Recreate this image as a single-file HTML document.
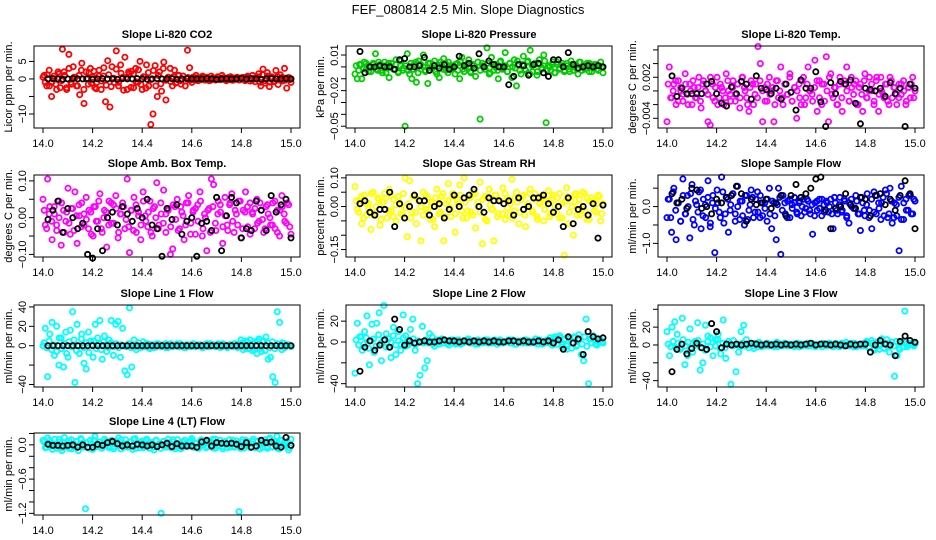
<!DOCTYPE html>
<html><head><meta charset="utf-8"><style>
html,body{margin:0;padding:0;background:#fff;}
svg{display:block;font-family:"Liberation Sans",Arial,sans-serif;}
</style></head><body>
<svg id="chart" width="936" height="540" viewBox="0 0 936 540" xmlns="http://www.w3.org/2000/svg">
<rect width="936" height="540" fill="#fff"/>
<text x="468" y="14" text-anchor="middle" font-size="13">FEF_080814  2.5 Min. Slope Diagnostics</text>
</svg>
<script>
// x axis ticks shared
const xTicks = [14.0, 14.2, 14.4, 14.6, 14.8, 15.0];
const xTickLabels = ["14.0", "14.2", "14.4", "14.6", "14.8", "15.0"];

// Panel titles and y labels
const titles = ["Slope Li-820 CO2","Slope Li-820 Pressure","Slope Li-820 Temp.","Slope Amb. Box Temp.","Slope Gas Stream RH","Slope Sample Flow","Slope Line 1 Flow","Slope Line 2 Flow","Slope Line 3 Flow","Slope Line 4 (LT) Flow"];
const yLabels = ["Licor ppm per min.","kPa per min.","degrees C per min.","degrees C per min.","percent per min.","ml/min per min.","ml/min per min.","ml/min per min.","ml/min per min.","ml/min per min."];

// y ticks per panel
const yTicks0 = [-10,-5,0,5];           const yTickLab0 = ["-10","","0","5"];
const yTicks1 = [0.01,0,-0.01,-0.02,-0.03,-0.04,-0.05]; const yTickLab1 = ["0.01","","","-0.02","","","-0.05"];
const yTicks2 = [0.006,0.004,0.002,0,-0.002,-0.004]; const yTickLab2 = ["","","0.002","","","-0.004"];
const yTicks3 = [0.10,0.05,0,-0.05,-0.10]; const yTickLab3 = ["0.10","","0.00","","-0.10"];
const yTicks4 = [0.10,0.05,0,-0.05,-0.10,-0.15]; const yTickLab4 = ["0.10","","0.00","","","-0.15"];
const yTicks5 = [0.5,0,-0.5,-1.0]; const yTickLab5 = ["","0.0","","-1.0"];
const yTicks6 = [40,20,0,-20,-40]; const yTickLab6 = ["40","20","0","","-40"];
const yTicks7 = [20,0,-20,-40]; const yTickLab7 = ["20","0","","-40"];
const yTicks8 = [40,20,0,-20,-40]; const yTickLab8 = ["","20","0","","-40"];
const yTicks9 = [0.2,0,-0.2,-0.4,-0.6,-0.8,-1.0,-1.2]; const yTickLab9 = ["","0.0","","","-0.6","","","-1.2"];

// y limits per panel
const yLim = [[-14,9.4],[-0.0515,0.0176],[-0.00542,0.00657],[-0.107,0.116],[-0.176,0.110],[-1.37,0.858],[-42.6,42],[-43.2,35.5],[-47.1,44.8],[-1.229,0.208]];

// colored series values (evenly spread over 14.0-15.0)
const col0 = [0.5,-1,1.2,-2,-5,0.8,-1.5,2,-2.5,8.5,1,-3,7,-1,3.5,0.5,-2,-4.5,4.5,-7,2,-1.5,3,0.5,-2.5,-1,2.5,-3,0.8,-6.5,5.2,-8,3.5,-1,8,-2,4,0.5,6.2,-3,1.5,2.2,-2.5,3,-1,5,-3,0.5,4,-2,-13,-10,3.8,-5,2,-3.5,4.8,-6,0.5,3,-2,2.5,-1,1,-1.5,0.8,-2,8.2,3.2,-1,0.5,1,-0.5,0.3,0.8,-0.3,0.5,-0.5,0.8,0.2,-0.3,0.6,-0.2,1,0.3,-0.5,0.4,0.6,-0.4,0.2,0.5,-0.3,0.3,0.4,-0.2,0.5,0.1,-0.3,0.2,0.3,1.5,-2,2.8,-1.2,1.8,-2.2,0.6,-0.8,2.4,-1.6,1.2,-0.6,3,-2.6,0.4,-1];
const col1 = [-0.006,-0.01,0.002,-0.01,0.004,-0.002,0.001,-0.004,0.003,0.011,-0.003,0.002,-0.005,0.004,-0.001,-0.009,0.003,-0.002,0.006,-0.005,0.001,-0.003,-0.05,0.011,-0.006,-0.01,0.002,-0.013,0.005,-0.002,0.01,-0.004,-0.014,0.003,-0.001,0.005,-0.006,-0.009,0.002,0.007,-0.003,0.004,-0.002,0.001,-0.006,0.003,-0.01,0.008,-0.004,0.002,0.006,-0.005,0.001,-0.008,0.004,-0.044,0.003,-0.002,0.016,-0.006,0.008,-0.003,0.002,-0.01,0.005,-0.001,0.012,-0.004,0.003,-0.009,0.006,-0.016,0.002,-0.006,0.009,-0.003,0.005,0.014,-0.004,0.002,-0.007,0.006,-0.002,0.01,-0.047,0.001,-0.003,0.004,-0.005,0.002,-0.001,0.003,-0.004,0.001,-0.002,0.005,-0.003,0.002,-0.006,0.004,0,-0.002,0.003,-0.004,0.001,-0.001,0.002,-0.003,0.004,-0.005];
const col2 = [-0.0045,0.0035,-0.001,0.001,-0.002,0.0015,0,-0.0015,0.0025,-0.0005,0.001,-0.002,0.0005,-0.001,0.002,-0.0025,0.0015,0,-0.0045,-0.005,0.001,-0.0015,0.002,-0.001,0.0005,-0.002,0.0025,0,-0.0015,0.0015,-0.0005,0.001,-0.0025,0.002,0.0005,-0.001,-0.003,0.0015,-0.002,0.001,0.0065,0.004,-0.0045,0.0005,-0.0015,0.002,0,-0.0045,0.0015,-0.001,0.0035,-0.002,0.001,-0.0005,0.0025,-0.0015,0.0005,-0.004,0.001,-0.002,0.002,-0.001,0.0035,0,-0.0015,0.0045,-0.003,0.0015,-0.002,0.001,0.005,-0.0045,0.0025,-0.001,0.0005,-0.002,0.002,-0.003,0.001,0.0035,-0.0015,0.002,-0.0005,0.0015,-0.002,0.001,-0.003,0.0025,-0.001,0.002,0,-0.002,0.0015,-0.003,0.002,-0.0005,0.001,-0.0015,0.002,-0.001,0.0005,-0.002,0.001,-0.0005,0.0015,-0.002,0.0005,-0.001,0.002,0];
const col3 = [0.05,-0.02,0.105,0.03,-0.06,0.01,-0.035,0.045,-0.075,0.02,-0.01,0.08,-0.045,0.025,0.07,-0.07,0.005,0.04,-0.02,0.055,-0.03,0.015,-0.05,0.03,-0.01,0.065,-0.04,0.02,-0.08,0.045,-0.015,0.035,0.06,-0.055,0.01,0.04,-0.03,0.105,-0.095,0.02,0.055,-0.04,0.015,-0.06,0.07,0.005,-0.025,0.045,-0.05,0.03,0.095,-0.02,0.01,0.075,-0.04,0.025,-0.1,-0.085,0.03,0.05,-0.03,0.015,-0.06,0.04,0.06,-0.015,0.02,-0.045,0.035,0.07,-0.05,0.01,-0.09,0.025,0.105,0.09,-0.035,0.045,0.015,-0.07,0.055,-0.02,0.035,0.065,-0.04,0.01,0.045,-0.055,0.02,0.07,-0.025,0.04,0.015,-0.03,0.05,-0.01,0.02,-0.04,0.03,0.01,-0.02,0.04,-0.03,0.02,-0.05,0.06,0.01,-0.015,0.035,-0.045];
const col4 = [0.07,-0.01,0.02,-0.06,0.04,-0.03,0.01,-0.08,0.05,-0.02,0.03,-0.065,0.015,0.045,-0.04,0.06,-0.015,0.025,-0.05,0.035,0.005,-0.03,0.1,-0.105,0.09,-0.02,0.04,-0.06,0.02,-0.12,0.05,-0.01,0.03,-0.045,0.015,-0.07,0.06,-0.025,0.035,-0.12,0.01,0.08,-0.035,0.045,-0.09,0.02,0.075,-0.015,0.1,-0.04,0.03,-0.02,0.05,-0.075,0.015,0.085,-0.13,0.035,-0.05,0.06,-0.01,-0.12,0.04,-0.025,0.02,0.065,-0.045,0.03,-0.03,0.095,-0.015,0.05,-0.06,0.025,0.04,-0.07,0.01,0.06,-0.02,0.045,-0.035,0.015,0.035,-0.05,0.02,0.055,-0.025,0.04,-0.01,0.03,-0.04,0.01,-0.17,0.065,-0.06,0.02,-0.1,0.045,0.005,-0.03,0.05,-0.015,0.03,-0.045,0.015,0.02,-0.02,0.04,-0.05,0.01];
const col5 = [-0.3,0.2,-0.7,0.5,-0.9,0.1,-0.4,0.75,-0.2,0.3,-0.85,0.6,-0.5,0.05,0.4,-0.6,0.2,-0.3,0.7,-0.55,0.1,-1.25,0.45,-0.15,0.8,-0.45,0.25,-0.7,0.05,0.35,-0.2,0.55,-0.35,0.15,-0.5,0.3,-0.1,0.45,-0.3,0.2,-0.15,0.3,-0.25,0.1,-0.4,0.5,-0.6,0.1,-0.9,0.5,-1.3,0.3,-0.2,0.15,-0.3,0.05,0.25,-0.15,0.1,-0.25,0.2,-0.05,0.15,-0.2,-0.75,0.1,-0.1,0.2,-0.25,0.05,0.15,-0.15,0.2,-0.6,0.1,-0.2,0.25,-0.1,0.15,-0.3,-0.45,0.2,-0.05,0.3,-0.2,-0.65,0.1,-0.25,0.35,-0.1,-0.6,0.4,-0.2,0.1,-0.35,0.25,0.45,-0.3,0.5,-0.45,0.1,-0.25,-1.2,0.55,-0.35,0.2,-0.1,0.3,-0.2,0.15];
const col6 = [0,18,-32,12,24,-10,20,-20,8,-22,14,-12,16,35,-38,22,-8,12,-18,-24,14,5,-12,22,8,26,-14,10,-6,6,26,-10,22,25,-12,18,-26,-30,39,-22,6,-4,3,-2,4,-1,2,-3,1,-2,2,0,-1,1,2,-2,1,-1,0,2,-1,1,-2,1,0,-1,2,-1,1,0,-2,1,2,-1,0,1,-1,2,0,-1,1,-2,1,0,2,-1,1,6,-4,5,-3,6,-5,4,-8,7,-6,5,9,-14,-12,-32,-38,35,24,-4,2,0,1,-1];
const col7 = [-30,18,5,-8,10,25,-22,17,-10,18,28,-18,35,8,-5,-15,14,-12,10,-8,26,6,-3,12,22,-8,-40,-32,15,-25,-18,8,5,-4,2,-2,3,-1,1,-3,2,0,-1,2,-2,1,0,3,-1,1,-2,2,0,-1,1,2,-1,0,2,-2,1,-1,0,1,2,-1,1,-2,0,1,-1,2,0,-1,1,3,-2,1,0,-1,2,4,-3,5,-2,6,-5,3,-7,4,-6,5,-4,7,-12,-18,22,-40,3,6,-2,0,2,-1];
const col8 = [15,-12,20,26,12,-4,30,-22,-12,18,-8,4,25,-28,-20,22,10,8,-12,6,12,-10,28,-15,4,-44,5,-30,-8,15,22,6,-3,2,-4,1,3,-2,0,2,-1,1,-2,3,0,-1,2,-1,1,0,-2,2,1,-1,0,2,-1,1,-2,0,1,2,-1,0,1,-2,2,-1,0,1,3,-1,2,-2,1,0,-1,2,4,-3,5,-6,3,-5,7,-4,6,-8,3,-35,-12,-5,4,38,-2,2,0,1];
const col9 = [0.08,-0.05,0.12,0.02,-0.08,0.1,-0.02,0.05,-0.1,0.13,0.01,-0.06,0.09,-0.03,0.06,-0.1,0.11,0.03,-1.12,-0.04,0.08,-0.08,0.15,-0.02,0.05,-0.06,0.1,0.01,-0.05,0.08,-0.03,0.06,0.12,-0.07,0.02,0.09,-0.04,0.05,-0.08,0.11,0.03,-0.05,0.07,-0.02,0.1,-0.06,0.04,-0.09,0.08,0.01,-1.2,0.06,-0.04,0.1,-0.02,0.05,-0.07,0.09,0.02,-0.05,0.08,-0.03,0.06,0.11,-0.04,0.03,-0.06,0.09,0.01,-0.05,0.07,-0.02,0.1,-0.06,0.04,0.08,-0.03,0.06,-0.05,0.09,0.02,-0.04,0.07,-1.17,0.05,-0.06,0.08,0.01,-0.03,0.1,-0.05,0.06,0.02,-0.04,0.09,-0.06,0.12,-0.03,0.05,0.15,-0.07,0.08,-0.02,0.04,-0.09,0.1];

// dense core band values for colored series (evenly spread over 14.0-15.0)
const band0 = [1,-2,2.5,-1,0,-3,1.5,-0.5,2,-2.5,3,-1.5,0.5,-2,1,2.5,-3,0,1.8,-1.2,2.2,-2.8,0.8,-0.6,3.2,-1.8,1.2,-2.2,0.2,2.8,-1,1.6,-3.2,0.4,2,-2.4,1.4,-0.8,2.6,-1.6,0.6,-2.6,1.8,-0.2,2.4,-2,1,-1.4,3,-0.4,0.5,-0.8,0.6,-1.2,1,-0.5,0.8,-0.6,0.4,-0.3,0.5,-0.4,0.3,-0.2,0.4,-0.3,0.2,-0.4,0.3,-0.1,0.4,-0.2,0.3,-0.3,0.2,-0.2,0.3,-0.1,0.2,-0.2,0.4,-0.5,0.8,-0.6,1,-0.8,0.6,-1,1.2,-0.5,0.8,-0.9,0.4,-0.6,0.7,-0.3,0.5,-0.4,0.3,-0.2];
const band1 = [0.001,-0.003,0.002,-0.001,0.003,-0.004,0,0.002,-0.002,0.004,-0.003,0.001,-0.005,0.003,0,-0.002,0.002,-0.004,0.005,-0.001,0.001,-0.003,0.003,-0.002,0.004,-0.005,0.002,0,-0.003,0.003,-0.001,0.002,-0.004,0.001,0.004,-0.002,0.003,-0.005,0.001,-0.001,0.002,-0.003,0.005,-0.002,0,0.003,-0.004,0.002,-0.001,0.004,-0.003,0.001,-0.002,0.003,-0.005,0.002,0,-0.003,0.004,-0.002,0.001,-0.004,0.003,0,-0.001,0.005,-0.003,0.002,-0.002,0.004,-0.006,0.001,0.003,-0.004,0.002,-0.001,0.005,-0.003,0,0.002,-0.005,0.004,-0.002,0.001,-0.003,0.003,-0.004,0.002,0,-0.002,0.004,-0.003,0.001,-0.001,0.003,-0.004,0.002,-0.002,0.001,0];
const band2 = [0.001,-0.001,0,0.0015,-0.0015,0.0005,-0.0005,0.001,-0.002,0,0.0015,-0.001,0.0005,-0.0015,0.001,0,-0.0005,0.002,-0.001,0.0005,-0.002,0.001,0,-0.001,0.0015,-0.0005,0.0005,-0.0015,0.001,-0.001,0.002,0,-0.002,0.0005,0.001,-0.0005,-0.001,0.0015,0,-0.0015,0.001,-0.0005,0.0005,-0.002,0.0015,0,-0.001,0.001,-0.0005,0.002,-0.0015,0.0005,0,-0.001,0.0015,-0.002,0.001,0,-0.0005,0.0005,0.0015,-0.001,0.001,-0.0015,0,0.002,-0.0005,0.0005,-0.002,0.001,-0.001,0.0015,0,-0.0015,0.0005,0.001,-0.002,0.0005,-0.0005,0.0015,-0.001,0,0.001,-0.0015,0.002,-0.0005,0,-0.001,0.001,-0.002,0.0015,0.0005,-0.0005,-0.001,0.001,0,-0.0015,0.0005,0.001,-0.001];
const band3 = [0.02,-0.03,0.01,-0.01,0.03,-0.02,0,0.04,-0.04,0.015,-0.015,0.025,-0.035,0.005,0.035,-0.025,0.01,-0.005,0.02,-0.045,0.03,-0.01,0.045,-0.03,0,0.015,-0.02,0.04,-0.015,0.025,-0.04,0.01,0.03,-0.005,-0.025,0.02,-0.035,0.035,0.005,-0.02,0.045,-0.01,0.015,-0.04,0.025,0,-0.03,0.04,-0.015,0.01,0.02,-0.025,0.035,-0.005,-0.035,0.03,0.005,-0.02,0.04,-0.045,0.015,0.025,-0.01,0.045,-0.03,0,0.02,-0.04,0.03,-0.015,0.01,0.035,-0.025,0.005,-0.035,0.04,-0.01,0.02,-0.02,0.045,-0.03,0.015,0.03,-0.045,0.01,0.025,-0.015,0.04,-0.005,-0.03,0.035,0,-0.02,0.045,-0.04,0.02,0.03,-0.01,0.04,-0.025];
const band4 = [0.02,-0.02,0.035,-0.04,0.01,-0.01,0.045,-0.03,0,0.025,-0.045,0.015,0.03,-0.015,0.04,-0.035,0.005,0.02,-0.025,0.045,-0.005,0.01,-0.04,0.035,-0.02,0.025,0,-0.03,0.04,-0.01,0.015,-0.045,0.03,0.005,-0.02,0.045,-0.035,0.02,-0.005,0.035,-0.025,0.01,0.04,-0.04,0.015,-0.015,0.03,-0.03,0.045,0,-0.02,0.025,-0.045,0.035,0.005,-0.01,0.04,-0.035,0.02,-0.025,0.045,-0.005,0.01,-0.04,0.03,0.015,-0.02,0.035,-0.03,0,0.045,-0.015,0.025,-0.045,0.01,0.04,-0.01,0.02,-0.035,0.03,0.005,-0.025,0.045,-0.04,0.015,0.035,-0.02,0,0.04,-0.03,0.025,-0.01,0.045,-0.045,0.02,0.03,-0.015,0.01,0.035,-0.025];
const band5 = [0.2,-0.3,0.4,-0.1,0.1,-0.4,0.3,-0.2,0,0.35,-0.35,0.15,-0.15,0.45,-0.25,0.05,0.25,-0.45,0.3,-0.05,0.1,-0.3,0.4,-0.2,0.2,-0.1,0.35,-0.4,0,0.15,-0.25,0.3,-0.35,0.05,0.25,-0.15,0.4,-0.3,0.1,-0.05,0.2,-0.2,0.15,-0.25,0.05,0.25,-0.1,0.1,-0.3,0.2,-0.05,0.1,-0.2,0.15,0,-0.15,0.2,-0.1,0.05,-0.25,0.15,-0.05,0.2,-0.15,0.1,0,-0.2,0.25,-0.1,0.05,-0.15,0.2,-0.25,0.1,0,-0.05,0.15,-0.2,0.25,-0.1,0.05,-0.3,0.2,-0.15,0.3,-0.05,0.1,-0.25,0.35,-0.2,0.15,-0.3,0.05,0.25,-0.35,0.1,-0.1,0.3,-0.2,0.2];
const band6 = [3,-2,5,-4,1,-6,8,-3,2,-8,4,-1,6,-5,0,7,-2,3,-7,1,5,-3,2,-4,4,1,-2,3,-1,2,-2,1,0,-1,2,-2,1,-1,3,0,-1,2,-2,1,0,-1,2,-1,1,-2,0,2,-1,1,-1,2,0,-2,1,-1,2,-1,0,1,-2,1,-1,2,0,-1,1,-2,2,0,-1,1,-1,2,-2,1,3,-2,4,-3,2,-4,5,-3,4,-5,3,-2,4,-3,2,-1,3,-2,1,0];
const band7 = [2,-3,5,-2,4,-6,1,3,-4,7,-1,2,-5,3,0,6,-3,1,-2,4,-4,2,-1,3,-2,1,0,-1,2,-1,1,-2,1,0,2,-1,1,-1,0,2,-2,1,0,-1,1,2,-1,0,1,-2,1,0,2,-1,1,-1,0,1,2,-1,0,1,-1,2,-2,1,0,-1,2,-1,1,0,-1,1,2,-2,1,0,-1,2,3,-2,4,-3,2,-4,3,-1,4,-3,2,-2,5,-4,3,-1,2,-3,1,0];
const band8 = [1,-2,4,-3,2,-5,6,-1,3,-4,2,0,5,-3,1,-6,4,-2,3,-1,6,-4,2,-3,1,2,-1,0,1,-2,2,-1,0,1,-1,2,-2,1,0,-1,2,-1,1,0,-2,1,-1,2,0,-1,1,-1,2,-2,1,0,-1,1,2,-1,0,1,-2,1,-1,2,0,-1,1,-2,2,-1,0,1,-1,2,-2,1,0,-1,3,-2,2,-4,3,-1,4,-3,2,-2,3,-1,4,-3,2,-2,1,0,1,-1];
const band9 = [0.05,-0.04,0.08,-0.02,0.02,-0.06,0.1,-0.05,0.03,-0.03,0.07,-0.07,0.01,0.06,-0.01,0.09,-0.04,0.04,-0.06,0.02,0.08,-0.03,0.05,-0.05,0,0.07,-0.02,0.03,-0.07,0.06,-0.01,0.09,-0.04,0.02,-0.03,0.05,0.1,-0.06,0.01,0.04,-0.05,0.07,-0.02,0.03,-0.04,0.08,0,-0.06,0.06,-0.01,0.04,-0.05,0.09,-0.03,0.02,-0.07,0.05,0.01,-0.02,0.08,-0.04,0.03,-0.06,0.07,0,0.04,-0.03,0.06,-0.05,0.1,-0.02,0.02,-0.07,0.05,0.01,-0.04,0.08,-0.03,0.03,-0.06,0.09,-0.01,0.04,-0.05,0.06,-0.02,0.07,-0.07,0.02,0.05,-0.03,0.1,-0.04,0.01,-0.06,0.08,-0.02,0.03,0.06,-0.05];

// black series values (x evenly spread over 14.02-15.0)
const blk0 = [0,0.1,0,-0.1,0,0.1,0,0,0.1,-0.1,0,0.1,0,0,-0.1,0.1,0,0,0.1,0,-0.1,0,0.1,0,0,0.1,-0.1,0,0.1,0,0,0,0.1,0,-0.1,0,0.1,0,0,0.2,0,0.1,0,-0.1,0,0.1,0,0,0.1,0];
const blk1 = [0.013,-0.005,0,0,0.001,0,0,-0.002,0.006,0.007,0,0,0.001,0.008,-0.003,0.001,-0.001,0.002,-0.002,0,0.009,0.001,0.003,-0.001,0.011,0,0.005,0.002,0,0,-0.015,-0.008,0.002,0.001,-0.007,0.002,0.003,-0.005,-0.008,0.006,0.006,0,0.012,0.002,-0.001,0,0.001,0,0.001,0];
const blk2 = [0.0022,-0.0008,0.0004,-0.0004,-0.0004,-0.0004,-0.0004,0.001,0.0014,-0.0004,-0.0018,-0.0022,0.0006,-0.0004,0.0014,0.001,-0.0012,0.0022,0.0004,0.0002,-0.0004,0.0004,-0.0012,0.001,-0.0002,-0.0028,0.0016,0.0004,0.0004,0.0028,-0.0016,-0.0052,0.0012,-0.0004,0.0014,0.001,0.0016,-0.0018,-0.0048,0.0004,0.0002,0,0.0004,-0.0008,0.0012,-0.0004,0.0004,-0.0052,0.001,0.0004];
const blk3 = [-0.005,0.02,0.045,-0.04,0.025,0.0,-0.03,-0.015,-0.1,-0.11,-0.03,-0.09,0.0,0.015,-0.02,0.03,0.01,-0.01,0.025,0.0,0.05,-0.02,-0.03,-0.105,0.025,-0.005,0.035,-0.045,-0.01,0.0,-0.105,-0.015,-0.01,-0.035,0.055,-0.09,0.005,0.055,0.04,-0.055,-0.03,-0.035,0.045,0.02,-0.035,0.06,0.015,0.035,0.05,-0.055];
const blk4 = [0.01,0.02,-0.02,-0.03,-0.01,-0.01,0.05,-0.07,0.01,-0.04,0.0,0.04,0.02,0.02,-0.03,0.0,0.01,-0.04,-0.01,0.04,0.0,0.03,0.04,0.06,0.0,-0.02,0.03,0.02,0.02,0.01,0.02,-0.03,0.03,-0.01,0.0,0.03,0.03,0.04,0.01,-0.02,0.0,-0.07,0.03,-0.06,-0.01,0.0,-0.03,0.01,-0.11,0.005];
const blk5 = [0.35,0.1,0.2,-0.05,0.5,0.45,-0.05,0.0,-0.2,0.2,0.1,0.25,0.3,0.55,0.35,-0.4,0.2,0.05,0.1,0.2,-0.05,0.1,0.3,-0.25,0.3,0.6,0.25,0.35,0.5,0.75,0.8,-0.1,-0.6,-0.05,0.0,0.35,0.05,-0.05,0.25,0.2,-0.25,0.3,0.35,0.05,0.2,-0.1,0.3,0.7,0.35,-0.6];
const blk6 = [0,0,0,0,0,0,0,0,0,0,0,0,0,0,0,0,0,0,0,0,0,0,0,0,0,0,0,0,0,0,0,0,0,0,0,0,0,0,0,0,0,0,0,0,0,0,0,0,0,0];
const blk7 = [-28,-5,1,-8,-3,2,-5,22,12,-3,1,-1,0,1,0,0,1,2,1,1,0,1,0,1,0,1,0,1,0,0,1,1,0,1,0,0,1,0,1,-1,2,-7,5,-1,3,-12,10,5,3,4];
const blk8 = [-30,-5,1,-10,-4,2,-3,-5,24,15,-3,1,0,1,0,1,2,1,0,1,0,1,0,1,0,1,0,1,2,0,1,1,0,1,0,-1,1,0,1,1,-8,0,5,1,0,-12,4,10,5,3];
const blk9 = [0.01,-0.01,-0.01,-0.02,-0.01,0.0,-0.04,0.0,-0.04,-0.04,0.01,-0.01,0.04,0.06,0.02,-0.02,0.0,-0.02,0.01,0.0,-0.02,0.0,-0.03,0.0,0.03,-0.03,0.02,-0.02,-0.02,-0.02,-0.04,0.05,0.08,-0.02,0.04,0.03,0.02,0.03,0.01,-0.03,0.04,-0.04,-0.02,0.08,0.04,0.05,-0.02,-0.04,0.13,-0.01];

const colorSets = [col0,col1,col2,col3,col4,col5,col6,col7,col8,col9];
const bandSets = [band0,band1,band2,band3,band4,band5,band6,band7,band8,band9];
const blackSets = [blk0,blk1,blk2,blk3,blk4,blk5,blk6,blk7,blk8,blk9];
const yTickSets = [yTicks0,yTicks1,yTicks2,yTicks3,yTicks4,yTicks5,yTicks6,yTicks7,yTicks8,yTicks9];
const yTickLabSets = [yTickLab0,yTickLab1,yTickLab2,yTickLab3,yTickLab4,yTickLab5,yTickLab6,yTickLab7,yTickLab8,yTickLab9];
const colors = ["#ff0000","#00cd00","#ff00ff","#ff00ff","#ffff00","#0000ff","#00ffff","#00ffff","#00ffff","#00ffff"];

const NS = "http://www.w3.org/2000/svg";
const svg = document.getElementById("chart");
const lefts = [34,346,658];
const tops = [46,175,305,433];
const W = 266, H = 82;

function mk(tag, attrs, parent){ const e=document.createElementNS(NS,tag); for(const k in attrs) e.setAttribute(k,attrs[k]); parent.appendChild(e); return e; }

for(let p=0;p<10;p++){
  const L = lefts[p%3], T = tops[Math.floor(p/3)];
  const g = mk("g",{},svg);
  
  
  const xs = v => L + 9 + (v-14)*248;
  const [y0,y1] = yLim[p];
  const ys = v => T + H - (v-y0)/(y1-y0)*H;

  const t = mk("text",{x:L+W/2,y:T-8,"text-anchor":"middle","font-size":"11","font-weight":"bold"},g);
  
  
  t.textContent = titles[p];

  const cg = mk("g",{fill:"none",stroke:colors[p],"stroke-width":"1.8"},g);
  
  
  // dense band
  const bd = bandSets[p];
  bd.forEach((v,i)=>{
    const c = mk("circle",{cx:xs(14 + (i+0.5)/bd.length).toFixed(1),cy:ys(v).toFixed(1),r:"2.6"},cg);
    
    
  });
  // scattered colored points
  const cs = colorSets[p];
  cs.forEach((v,i)=>{
    const c = mk("circle",{cx:xs(14 + i/(cs.length-1)).toFixed(1),cy:ys(v).toFixed(1),r:"2.6"},cg);
    
    
  });
  // black series
  const bs = blackSets[p];
  const bg = mk("g",{fill:"none",stroke:"#000","stroke-width":"1.8"},g);
  
  
  bs.forEach((v,i)=>{
    const c = mk("circle",{cx:xs(14.02 + i*0.98/(bs.length-1)).toFixed(1),cy:ys(v).toFixed(1),r:"2.6"},bg);
    
    
  });

  const box = mk("rect",{x:L,y:T,width:W,height:H,fill:"none",stroke:"#000","stroke-width":"1"},g);
  
  

  const xa = mk("g",{},g);
  
  
  mk("line",{x1:xs(14),x2:xs(15),y1:T+H,y2:T+H,stroke:"#000"},xa);
  xTicks.forEach((v,i)=>{
    mk("line",{x1:xs(v),x2:xs(v),y1:T+H,y2:T+H+5,stroke:"#000"},xa);
    const lt = mk("text",{x:xs(v),y:T+H+19,"text-anchor":"middle","font-size":"11"},xa);
    
    
    lt.textContent = xTickLabels[i];
  });

  const ya = mk("g",{},g);
  
  
  const yt = yTickSets[p];
  mk("line",{x1:L,x2:L,y1:ys(yt[0]),y2:ys(yt[yt.length-1]),stroke:"#000"},ya);
  yt.forEach((v,i)=>{
    const y = ys(v);
    mk("line",{x1:L-5,x2:L,y1:y,y2:y,stroke:"#000"},ya);
    const s = yTickLabSets[p][i];
    if(s){
      const lt = mk("text",{x:L-8,y:y,"text-anchor":"middle","font-size":"11",transform:`rotate(-90 ${L-8} ${y})`},ya);
      
      
      lt.textContent = s.replace("-","\u2212");
    }
  });
  const yl = mk("text",{x:L-22,y:T+H/2,"text-anchor":"middle","font-size":"11",transform:`rotate(-90 ${L-22} ${T+H/2})`},ya);
  
  
  yl.textContent = yLabels[p];
}
</script>
</body></html>
